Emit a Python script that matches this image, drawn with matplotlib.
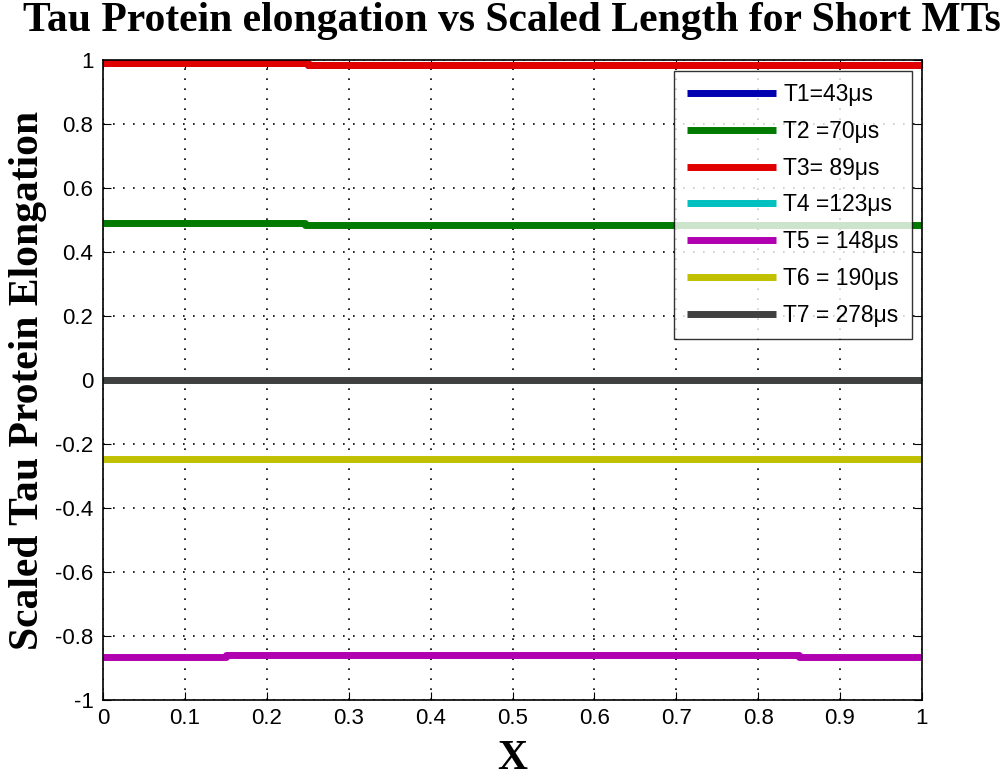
import matplotlib.pyplot as plt
import numpy as np

# step-like, nearly flat profiles
x_t1 = [0, 0.25, 0.25, 1]
y_t1 = [0.990, 0.990, 0.985, 0.985]
x_t2 = [0, 0.247, 0.247, 1]
y_t2 = [0.490, 0.490, 0.485, 0.485]
x_t3 = [0, 0.25, 0.25, 1]
y_t3 = [0.990, 0.990, 0.985, 0.985]
x_t4 = [0, 1]
y_t4 = [0.0, 0.0]
x_t5 = [0, 0.15, 0.15, 0.85, 0.85, 1]
y_t5 = [-0.865, -0.865, -0.858, -0.858, -0.865, -0.865]
x_t6 = [0, 1]
y_t6 = [-0.245, -0.245]
x_t7 = [0, 1]
y_t7 = [0.0, 0.0]

labels = ['T1=43\u03bcs', 'T2 =70\u03bcs', 'T3= 89\u03bcs', 'T4 =123\u03bcs',
          'T5 = 148\u03bcs', 'T6 = 190\u03bcs', 'T7 = 278\u03bcs']
colors = ['#0000b0', '#007a00', '#e00000', '#00c0c0', '#b000b0', '#c0c000', '#404040']

xs = [x_t1, x_t2, x_t3, x_t4, x_t5, x_t6, x_t7]
ys = [y_t1, y_t2, y_t3, y_t4, y_t5, y_t6, y_t7]

plt.rcParams['font.family'] = ['Liberation Sans', 'DejaVu Sans']

fig = plt.figure(figsize=(10.02, 7.83), dpi=100)
ax = fig.add_axes([0.103, 0.106, 0.817, 0.817])

for xx, yy, c, lab in zip(xs, ys, colors, labels):
    ax.plot(xx, yy, color=c, lw=5, label=lab, solid_capstyle='butt')

ax.set_xlim(0, 1)
ax.set_ylim(-1, 1)
ax.set_xticks(np.arange(0, 1.01, 0.1))
ax.set_yticks(np.arange(-1, 1.01, 0.2))
ax.set_xticklabels(['0', '0.1', '0.2', '0.3', '0.4', '0.5', '0.6', '0.7', '0.8', '0.9', '1'])
ax.set_yticklabels(['-1', '-0.8', '-0.6', '-0.4', '-0.2', '0', '0.2', '0.4', '0.6', '0.8', '1'])
ax.tick_params(direction='in', length=6, labelsize=16, top=True, right=True)
ax.tick_params(axis='x', pad=6)
ax.tick_params(axis='y', pad=7)
ax.grid(True, color='black', linestyle=(0, (1, 5)), linewidth=1.2)
for s in ax.spines.values():
    s.set_linewidth(1.2)

fig.text(0.511, 0.998, 'Tau Protein elongation vs Scaled Length for Short MTs',
         ha='center', va='top', family='Liberation Serif', fontweight='bold', fontsize=30)
ax.set_xlabel('X', family='Liberation Serif', fontweight='bold', fontsize=30, labelpad=8)
ax.set_ylabel('Scaled Tau Protein Elongation', family='Liberation Serif',
              fontweight='bold', fontsize=30, labelpad=6)

leg = ax.legend(loc='upper right', fontsize=16.5, frameon=True, fancybox=False,
                edgecolor='black', handlelength=3.9, labelspacing=0.6,
                borderaxespad=0.45, handletextpad=0.3, borderpad=0.55)
leg.get_frame().set_linewidth(1.0)
for line in leg.get_lines():
    line.set_linewidth(5)

fig.savefig('out.png', dpi=100)
